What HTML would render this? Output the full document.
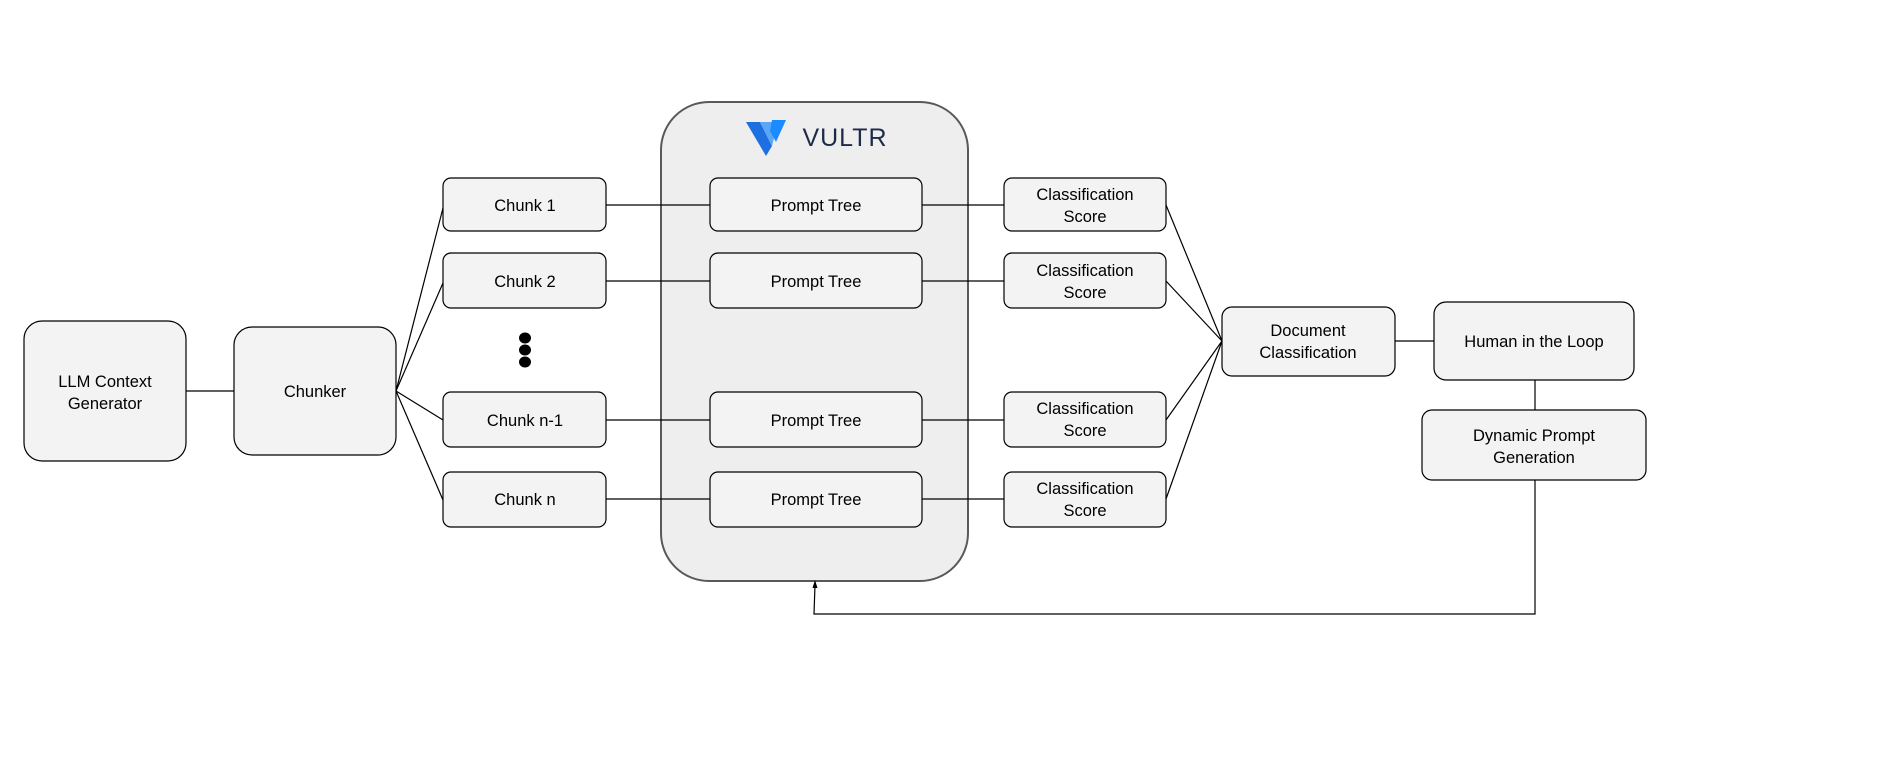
<!DOCTYPE html>
<html><head><meta charset="utf-8"><style>
html,body{margin:0;padding:0;background:#fff;}
svg{display:block;}
text{font-family:"Liberation Sans",Arial,sans-serif;font-size:16.5px;fill:#000;text-anchor:middle;}
</style></head><body>
<svg width="1903" height="759" viewBox="0 0 1903 759" xmlns="http://www.w3.org/2000/svg">
<rect x="661" y="102" width="307" height="479" rx="48" fill="#eeeeee" stroke="#595959" stroke-width="2"/>
<g stroke="#000" stroke-width="1.2" fill="none">
<line x1="186" y1="391" x2="234" y2="391"/>
<line x1="396" y1="391" x2="443" y2="208"/>
<line x1="396" y1="391" x2="443" y2="283"/>
<line x1="396" y1="391" x2="443" y2="420"/>
<line x1="396" y1="391" x2="443" y2="500"/>
<line x1="606" y1="205" x2="710" y2="205"/>
<line x1="606" y1="281" x2="710" y2="281"/>
<line x1="606" y1="420" x2="710" y2="420"/>
<line x1="606" y1="499" x2="710" y2="499"/>
<line x1="922" y1="205" x2="1004" y2="205"/>
<line x1="922" y1="281" x2="1004" y2="281"/>
<line x1="922" y1="420" x2="1004" y2="420"/>
<line x1="922" y1="499" x2="1004" y2="499"/>
<line x1="1166" y1="205" x2="1222" y2="341"/>
<line x1="1166" y1="281" x2="1222" y2="341"/>
<line x1="1166" y1="420" x2="1222" y2="341"/>
<line x1="1166" y1="499" x2="1222" y2="341"/>
<line x1="1395" y1="341" x2="1434" y2="341"/>
<line x1="1535" y1="380" x2="1535" y2="410"/>
<polyline points="1535,480 1535,614 814,614 815,585"/>
</g>
<polygon points="815,580 812.5,588 817.5,588" fill="#000"/>
<g fill="#f3f3f3" stroke="#000" stroke-width="1.2">
<rect x="24" y="321" width="162" height="140" rx="18"/>
<rect x="234" y="327" width="162" height="128" rx="18"/>
<rect x="443" y="178" width="163" height="53" rx="8"/>
<rect x="443" y="253" width="163" height="55" rx="8"/>
<rect x="443" y="392" width="163" height="55" rx="8"/>
<rect x="443" y="472" width="163" height="55" rx="8"/>
<rect x="710" y="178" width="212" height="53" rx="8"/>
<rect x="710" y="253" width="212" height="55" rx="8"/>
<rect x="710" y="392" width="212" height="55" rx="8"/>
<rect x="710" y="472" width="212" height="55" rx="8"/>
<rect x="1004" y="178" width="162" height="53" rx="8"/>
<rect x="1004" y="253" width="162" height="55" rx="8"/>
<rect x="1004" y="392" width="162" height="55" rx="8"/>
<rect x="1004" y="472" width="162" height="55" rx="8"/>
<rect x="1222" y="307" width="173" height="69" rx="10"/>
<rect x="1434" y="302" width="200" height="78" rx="12"/>
<rect x="1422" y="410" width="224" height="70" rx="10"/>
</g>
<g fill="#000">
<ellipse cx="525" cy="338" rx="6" ry="5.5"/>
<ellipse cx="525" cy="350" rx="6" ry="5.5"/>
<ellipse cx="525" cy="362" rx="6" ry="5.5"/>
</g>
<polygon points="746,122 760,122 772,146 766,156" fill="#1e6fe0"/>
<polygon points="760,122 778,122 772,146" fill="#5aa8f5"/>
<polygon points="772,120 786,120 776,142 770,131" fill="#1a8cff"/>
<text x="845" y="146" style="font-size:25px;fill:#1e2a4a;letter-spacing:1px">VULTR</text>
<text x="105" y="387">LLM Context</text>
<text x="105" y="409">Generator</text>
<text x="315" y="397">Chunker</text>
<text x="525" y="211">Chunk 1</text>
<text x="525" y="287">Chunk 2</text>
<text x="525" y="426">Chunk n-1</text>
<text x="525" y="505">Chunk n</text>
<text x="816" y="211">Prompt Tree</text>
<text x="816" y="287">Prompt Tree</text>
<text x="816" y="426">Prompt Tree</text>
<text x="816" y="505">Prompt Tree</text>
<text x="1085" y="200">Classification</text>
<text x="1085" y="222">Score</text>
<text x="1085" y="276">Classification</text>
<text x="1085" y="298">Score</text>
<text x="1085" y="414">Classification</text>
<text x="1085" y="436">Score</text>
<text x="1085" y="494">Classification</text>
<text x="1085" y="516">Score</text>
<text x="1308" y="336">Document</text>
<text x="1308" y="358">Classification</text>
<text x="1534" y="347">Human in the Loop</text>
<text x="1534" y="441">Dynamic Prompt</text>
<text x="1534" y="463">Generation</text>
</svg>
</body></html>
